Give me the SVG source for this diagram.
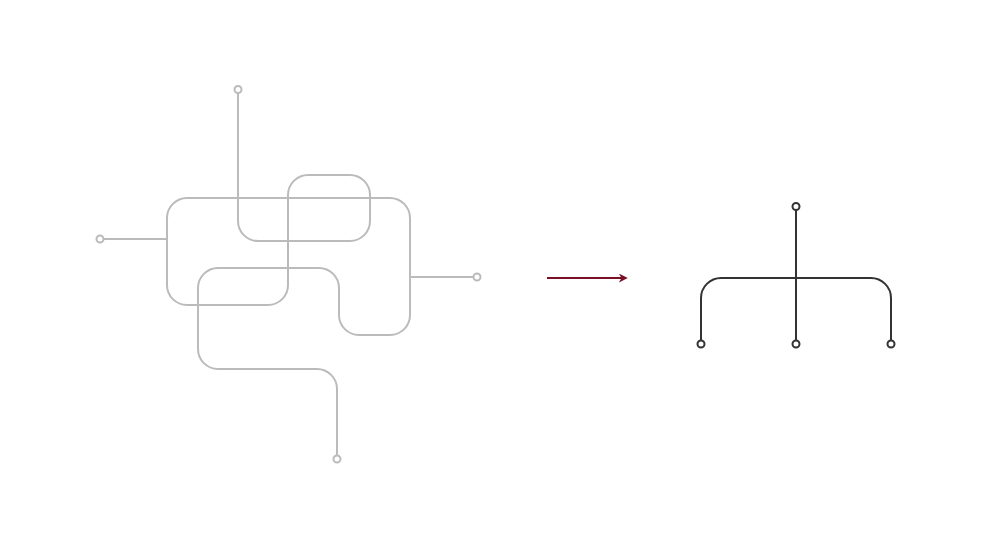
<svg xmlns="http://www.w3.org/2000/svg" width="1000" height="546" viewBox="0 0 1000 546">
<style>
.g{fill:none;stroke:#bbbbbb;stroke-width:2}
.gt{fill:#ffffff;stroke:#bbbbbb;stroke-width:2}
.d{fill:none;stroke:#333333;stroke-width:2}
.dt{fill:#ffffff;stroke:#333333;stroke-width:2}
</style>
<defs>
<marker id="ah" viewBox="0 0 10 10" refX="8" refY="5" markerWidth="4.5" markerHeight="4.5" orient="auto" markerUnits="strokeWidth">
<path d="M0,0 L10,5 L0,10 L3,5 Z" fill="#7a1025"/>
</marker>
</defs>
<rect width="1000" height="546" fill="#ffffff"/>
<g id="connectors">
<path class="g" d="M238,93 V221 A20,20 0 0 0 258,241 H350 A20,20 0 0 0 370,221 V195 A20,20 0 0 0 350,175 H308 A20,20 0 0 0 288,195 V285 A20,20 0 0 1 268,305 H187 A20,20 0 0 1 167,285 V218 A20,20 0 0 1 187,198 H390 A20,20 0 0 1 410,218 V315 A20,20 0 0 1 390,335 H359 A20,20 0 0 1 339,315 V288 A20,20 0 0 0 319,268 H218 A20,20 0 0 0 198,288 V349 A20,20 0 0 0 218,369 H317 A20,20 0 0 1 337,389 V455.5"/>
<path class="g" d="M103.5,239 H167"/>
<path class="g" d="M410,277 H473.5"/>
<path d="M547,278 H626" fill="none" stroke="#7a1025" stroke-width="2" marker-end="url(#ah)"/>
<path class="d" d="M796,210 V340"/>
<path class="d" d="M701,340 V298 A20,20 0 0 1 721,278 H871 A20,20 0 0 1 891,298 V340"/>
</g>
<g id="left-terminals">
<circle class="gt" cx="238" cy="89.5" r="3.5"/>
<circle class="gt" cx="100" cy="239" r="3.5"/>
<circle class="gt" cx="477" cy="277" r="3.5"/>
<circle class="gt" cx="337" cy="459" r="3.5"/>
</g>
<g id="right-terminals">
<circle class="dt" cx="796" cy="206.5" r="3.5"/>
<circle class="dt" cx="701" cy="344" r="3.5"/>
<circle class="dt" cx="796" cy="344" r="3.5"/>
<circle class="dt" cx="891" cy="344" r="3.5"/>
</g>
</svg>
